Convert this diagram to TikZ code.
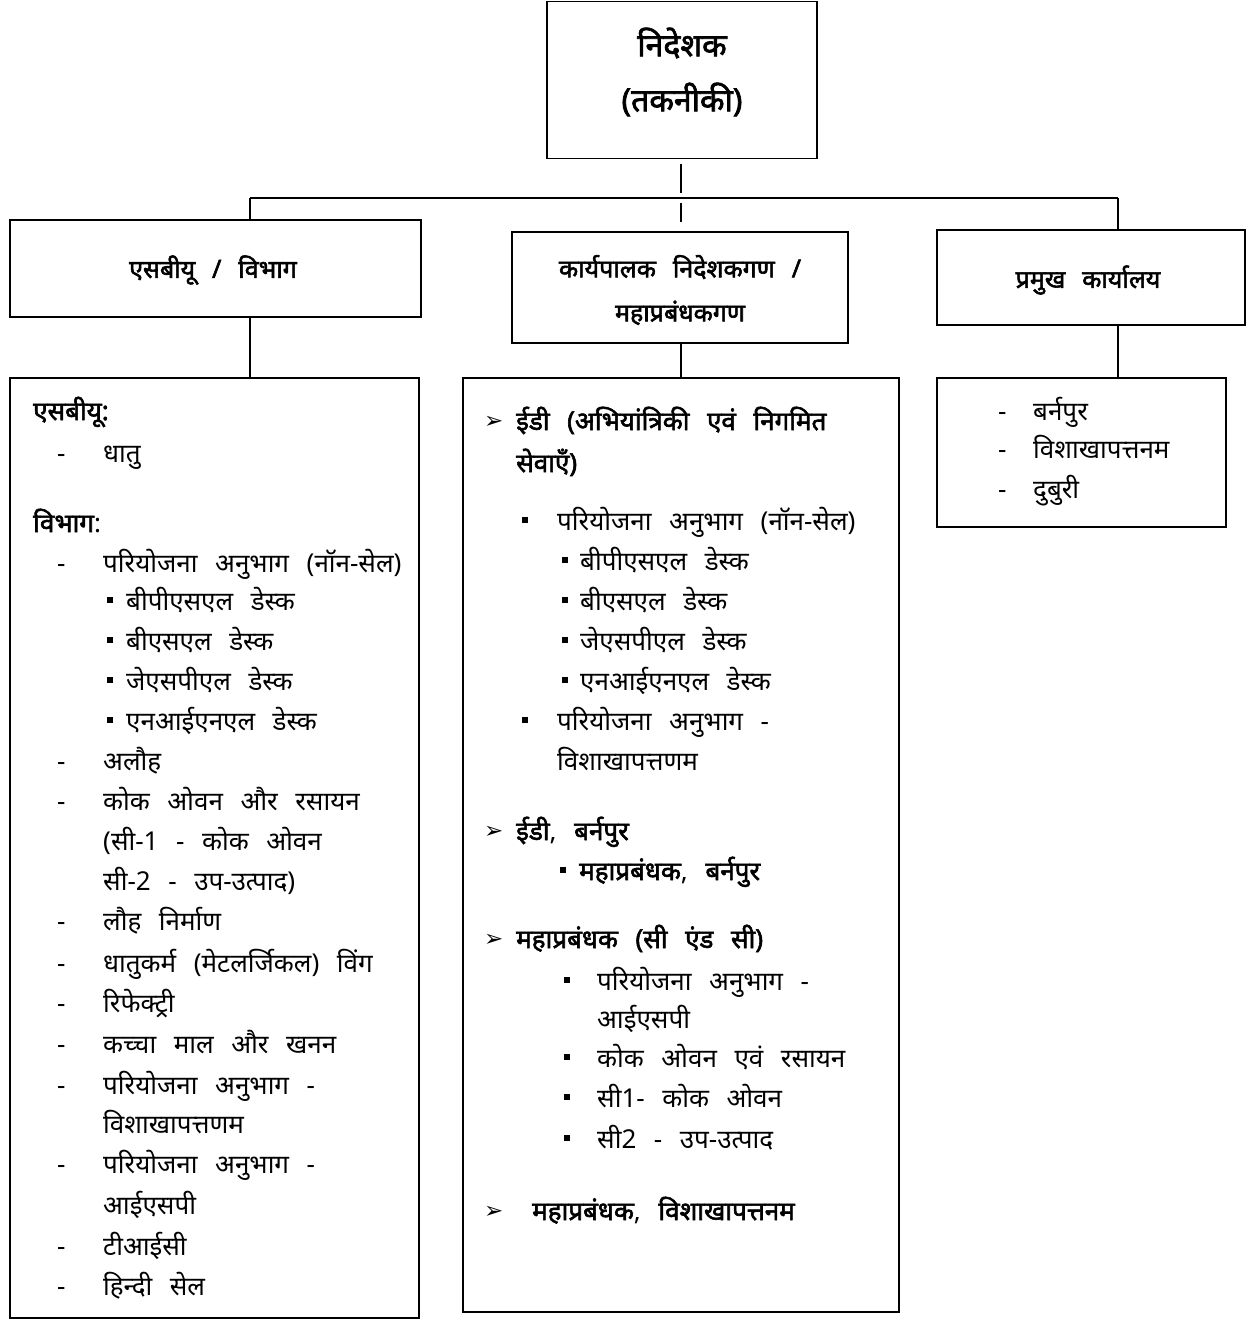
\documentclass[tikz,border=0pt]{standalone}
\usepackage{fontspec}
\newfontfamily\hindi[Script=Devanagari, WordSpace=2.6, BoldFont={Noto Sans}, BoldFeatures={FakeBold=2.2}]{Noto Sans}
\newfontfamily\sym{DejaVu Sans}
\begin{document}
\begin{tikzpicture}[x=1pt,y=-1pt,
  box/.style={draw, line width=1.6pt, inner sep=0pt},
  conn/.style={line width=1.3pt},
  t/.style={anchor=base west, inner sep=0pt, yshift=-10pt, font=\hindi\fontsize{26}{29}\selectfont},
  tb/.style={t, font=\hindi\bfseries\fontsize{26}{29}\selectfont},
  hd/.style={align=center, inner sep=0pt, font=\hindi\bfseries\fontsize{25}{44}\selectfont},
  sqb/.style={fill, inner sep=0pt, minimum size=6pt},
  arr/.style={anchor=base west, inner sep=0pt, yshift=-8pt, font=\sym\fontsize{23}{26}\selectfont}]
\useasboundingbox (0,0) rectangle (1257,1320);
% boxes
\node[box, minimum width=270pt, minimum height=157pt] (top) at (682,80) {};
\node[hd, font=\hindi\bfseries\fontsize{32}{55}\selectfont] (toptxt) at (682,72) {निदेशक\\(तकनीकी)};
\node[box, minimum width=411pt, minimum height=97pt] (lh) at (215.5,268.5) {};
\node[hd] (lhtxt) at (213,270) {एसबीयू / विभाग};
\node[box, minimum width=336pt, minimum height=111pt] (mh) at (680,287.5) {};
\node[hd] (mhtxt) at (680,290) {कार्यपालक निदेशकगण /\\महाप्रबंधकगण};
\node[box, minimum width=308pt, minimum height=95pt] (rh) at (1091,277.5) {};
\node[hd] (rhtxt) at (1088,280) {प्रमुख कार्यालय};
\node[box, minimum width=409pt, minimum height=940pt] (lb) at (214.5,848) {};
\node[box, minimum width=436pt, minimum height=934pt] (mb) at (681,845) {};
\node[box, minimum width=289pt, minimum height=149pt] (rb) at (1081.5,452.5) {};
% connectors
\coordinate (busL) at (250,198);
\coordinate (busM) at (681,198);
\coordinate (busR) at (1118,198);
\draw[conn] (busL) -- (busR);
\draw[conn, shorten <=5pt, shorten >=5pt] (top.south -| busM) -- (busM);
\draw[conn] (busL) -- (busL |- lh.north);
\draw[conn, shorten <=5pt, shorten >=9pt] (busM) -- (busM |- mh.north);
\draw[conn] (busR) -- (busR |- rh.north);
\draw[conn] (lh.south -| busL) -- (lb.north -| busL);
\draw[conn] (mh.south -| busM) -- (mb.north -| busM);
\draw[conn] (rh.south -| busR) -- (rb.north -| busR);
% left box
\node[tb] (l1) at (33,410) {एसबीयू:};
\node[t] (l2d) at (57,452) {-};
\node[t] (l2) at (103,452) {धातु};
\node[t] (l3) at (33,522) {\bfseries विभाग\mdseries:};
\node[t] (l4d) at (57,562) {-};
\node[t] (l4) at (103,562) {परियोजना अनुभाग (नॉन-सेल)};
\node[sqb] (l5b) at (110,600) {};
\node[t] (l5) at (126,600) {बीपीएसएल डेस्क};
\node[sqb] (l6b) at (110,640) {};
\node[t] (l6) at (126,640) {बीएसएल डेस्क};
\node[sqb] (l7b) at (110,680) {};
\node[t] (l7) at (126,680) {जेएसपीएल डेस्क};
\node[sqb] (l8b) at (110,720) {};
\node[t] (l8) at (126,720) {एनआईएनएल डेस्क};
\node[t] (l9d) at (57,760) {-};
\node[t] (l9) at (103,760) {अलौह};
\node[t] (l10d) at (57,800) {-};
\node[t] (l10) at (103,800) {कोक ओवन और रसायन};
\node[t] (l11) at (103,840) {(सी-1 - कोक ओवन};
\node[t] (l12) at (103,880) {सी-2 - उप-उत्पाद)};
\node[t] (l13d) at (57,920) {-};
\node[t] (l13) at (103,920) {लौह निर्माण};
\node[t] (l14d) at (57,962) {-};
\node[t] (l14) at (103,962) {धातुकर्म (मेटलर्जिकल) विंग};
\node[t] (l15d) at (57,1002) {-};
\node[t] (l15) at (103,1002) {रिफेक्ट्री};
\node[t] (l16d) at (57,1043) {-};
\node[t] (l16) at (103,1043) {कच्चा माल और खनन};
\node[t] (l17d) at (57,1084) {-};
\node[t] (l17) at (103,1084) {परियोजना अनुभाग -};
\node[t] (l18) at (103,1123) {विशाखापत्तणम};
\node[t] (l19d) at (57,1163) {-};
\node[t] (l19) at (103,1163) {परियोजना अनुभाग -};
\node[t] (l20) at (103,1204) {आईएसपी};
\node[t] (l21d) at (57,1245) {-};
\node[t] (l21) at (103,1245) {टीआईसी};
\node[t] (l22d) at (57,1285) {-};
\node[t] (l22) at (103,1285) {हिन्दी सेल};
% middle box
\node[arr] (m1a) at (484,420) {➢};
\node[tb] (m1) at (516,420) {ईडी (अभियांत्रिकी एवं निगमित};
\node[tb] (m2) at (516,462) {सेवाएँ)};
\node[sqb] (m3b) at (525,520) {};
\node[t] (m3) at (557,520) {परियोजना अनुभाग (नॉन-सेल)};
\node[sqb] (m4b) at (565,560) {};
\node[t] (m4) at (580,560) {बीपीएसएल डेस्क};
\node[sqb] (m5b) at (565,600) {};
\node[t] (m5) at (580,600) {बीएसएल डेस्क};
\node[sqb] (m6b) at (565,640) {};
\node[t] (m6) at (580,640) {जेएसपीएल डेस्क};
\node[sqb] (m7b) at (565,680) {};
\node[t] (m7) at (580,680) {एनआईएनएल डेस्क};
\node[sqb] (m8b) at (525,720) {};
\node[t] (m8) at (557,720) {परियोजना अनुभाग -};
\node[t] (m9) at (557,760) {विशाखापत्तणम};
\node[arr] (m10a) at (484,830) {➢};
\node[t] (m10) at (516,830) {\bfseries ईडी\mdseries, \bfseries बर्नपुर};
\node[sqb] (m11b) at (563,870) {};
\node[t] (m11) at (579,870) {\bfseries महाप्रबंधक\mdseries, \bfseries बर्नपुर};
\node[arr] (m12a) at (484,938) {➢};
\node[tb] (m12) at (516,938) {महाप्रबंधक (सी एंड सी)};
\node[sqb] (m13b) at (567,980) {};
\node[t] (m13) at (597,980) {परियोजना अनुभाग -};
\node[t] (m14) at (597,1018) {आईएसपी};
\node[sqb] (m15b) at (567,1057) {};
\node[t] (m15) at (597,1057) {कोक ओवन एवं रसायन};
\node[sqb] (m16b) at (567,1097) {};
\node[t] (m16) at (597,1097) {सी1- कोक ओवन};
\node[sqb] (m17b) at (567,1138) {};
\node[t] (m17) at (597,1138) {सी2 - उप-उत्पाद};
\node[arr] (m18a) at (484,1210) {➢};
\node[t] (m18) at (532,1210) {\bfseries महाप्रबंधक\mdseries, \bfseries विशाखापत्तनम};
% right box
\node[t] (r1d) at (998,410) {-};
\node[t] (r1) at (1033,410) {बर्नपुर};
\node[t] (r2d) at (998,448) {-};
\node[t] (r2) at (1033,448) {विशाखापत्तनम};
\node[t] (r3d) at (998,488) {-};
\node[t] (r3) at (1033,488) {दुबुरी};
\end{tikzpicture}
\end{document}
